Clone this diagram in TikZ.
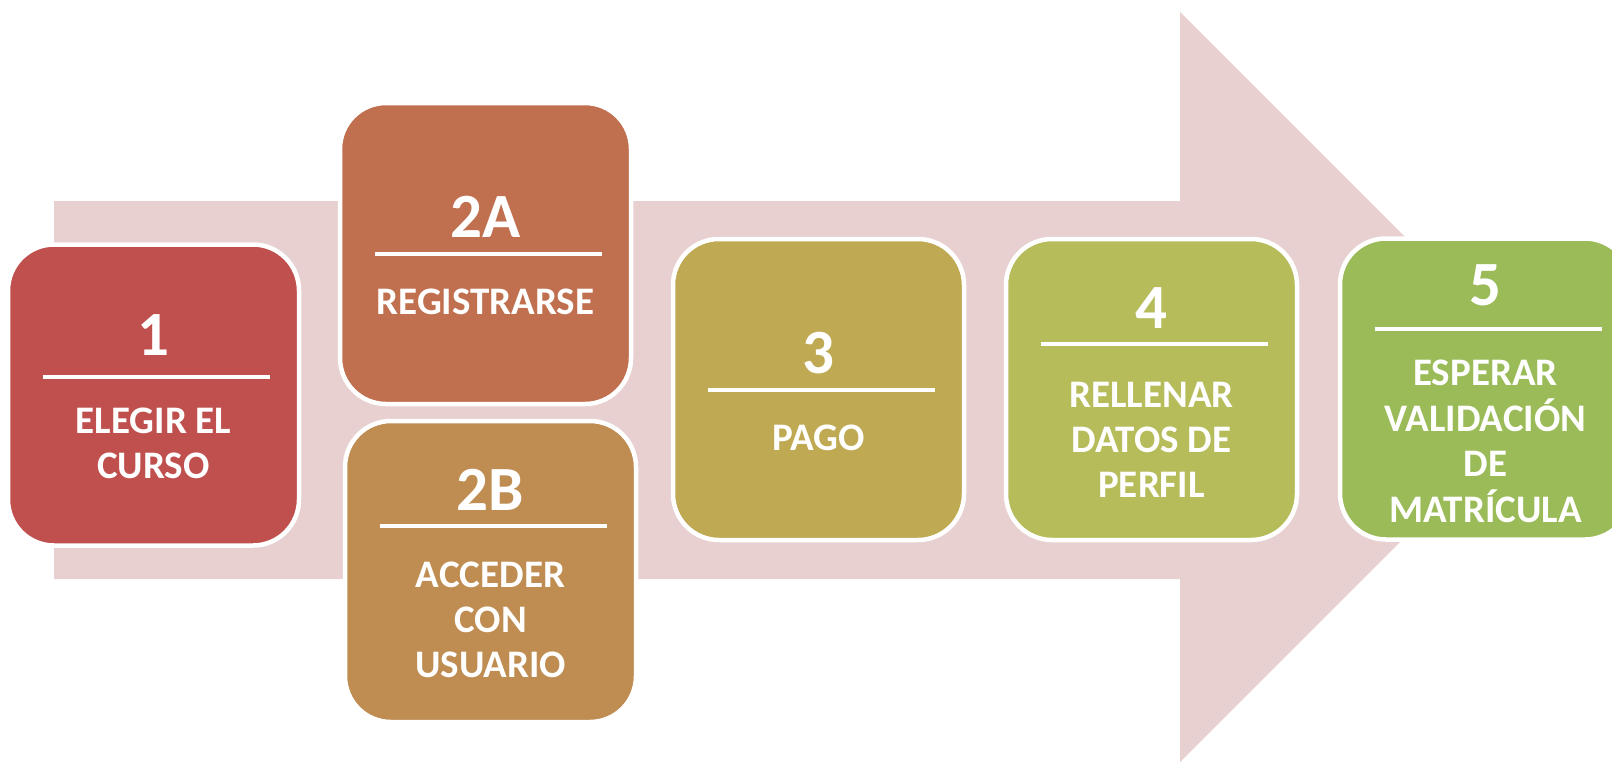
\documentclass[tikz,border=0pt]{standalone}
\usepackage{fontspec}
\setmainfont{Carlito}
\definecolor{arrowpink}{RGB}{232,208,209}
\definecolor{stepone}{RGB}{192,80,77}
\definecolor{steptwoa}{RGB}{192,112,79}
\definecolor{steptwob}{RGB}{191,141,82}
\definecolor{stepthree}{RGB}{191,169,83}
\definecolor{stepfour}{RGB}{182,188,90}
\definecolor{stepfive}{RGB}{155,187,89}
\begin{document}
\begin{tikzpicture}[x=1pt,y=-1pt,
  stepbox/.style={draw=white,line width=4.5pt,rounded corners=46pt,
    minimum width=291pt,minimum height=301pt,inner sep=0pt},
  steprule/.style={draw=white,line width=4pt},
  stepnum/.style={text=white,anchor=base,inner sep=0pt,
    font=\bfseries\fontsize{63}{63}\selectfont},
  steptext/.style={text=white,anchor=base,inner sep=0pt,
    font=\bfseries\fontsize{39}{45}\selectfont}]
\clip (0,0) rectangle (1612,763);

\fill[arrowpink] (54,201) -- (1180,201) -- (1180,12) -- (1555,387)
  -- (1180,762) -- (1180,579) -- (54,579) -- cycle;

\foreach \n/\x/\y/\c/\v/\r/\p/\q/\t in {
  1/153.5/395/stepone/1/376.5/355/433/{ELEGIR EL\\CURSO},
  2a/485.5/253.5/steptwoa/2A/254/237/314/{REGISTRARSE},
  2b/490.5/571.5/steptwob/2B/526/510/587/{ACCEDER\\CON\\USUARIO},
  3/818.5/389.5/stepthree/3/390/373/450/{PAGO},
  4/1151.5/389.5/stepfour/4/344/328/407/{RELLENAR\\DATOS DE\\PERFIL},
  5/1485.5/389/stepfive/5/329/305/385/{ESPERAR\\VALIDACIÓN\\DE\\MATRÍCULA}}
{
  \node[stepbox,fill=\c] (box\n) at (\x,\y) {};
  \draw[steprule] (\x-111,\r) -- (\x+116,\r);
  \node[stepnum] (num\n) at (\x,\p) {\v};
  \node[steptext] (txt\n) at (\x,\q)
    {\begin{tabular}[t]{@{}c@{}}\t\end{tabular}};
}
\end{tikzpicture}
\end{document}
